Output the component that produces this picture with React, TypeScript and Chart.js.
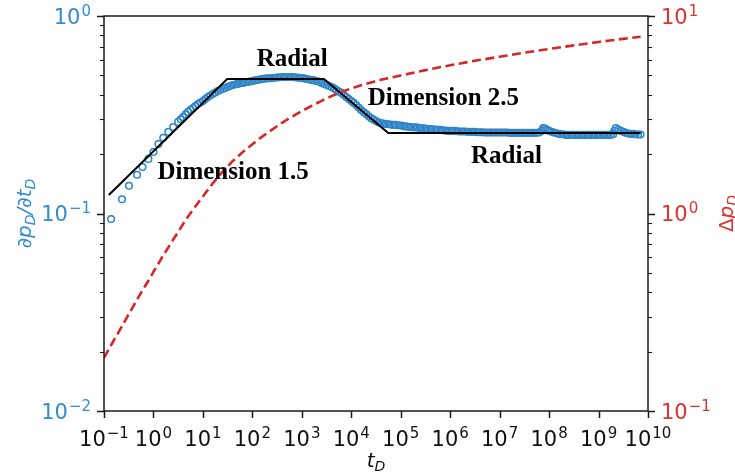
import React, { useEffect, useRef } from 'react';
import { Chart, registerables } from 'chart.js';

Chart.register(...registerables);

// ---------------- data ----------------
const xTicks = [1e-1, 1e0, 1e1, 1e2, 1e3, 1e4, 1e5, 1e6, 1e7, 1e8, 1e9, 1e10];
const xTickLabels = ['10^−1', '10^0', '10^1', '10^2', '10^3', '10^4', '10^5', '10^6', '10^7', '10^8', '10^9', '10^10'];
const yLeftTicks = [1e-2, 1e-1, 1e0];
const yLeftTickLabels = ['10^−2', '10^−1', '10^0'];
const yRightTicks = [1e-1, 1e0, 1e1];
const yRightTickLabels = ['10^−1', '10^0', '10^1'];

// derivative dpD/dtD (open circles)
const derivT = [
  0.139, 0.231, 0.32, 0.466, 0.6, 0.79,
  1, 1.26, 1.58, 2, 2.51, 3.16, 3.55, 3.98, 4.47, 5.01, 5.62, 6.31, 7.08, 7.94, 8.91,
  10, 11.2, 12.6, 14.1, 15.8, 17.8, 20, 22.4, 25.1, 28.2, 31.6, 35.5, 39.8, 44.7, 50.1, 56.2, 63.1, 70.8, 79.4, 89.1,
  100, 112, 126, 141, 158, 178, 200, 224, 251, 282, 316, 355, 398, 447, 501, 562, 631, 708, 794, 891,
  1e3, 1.12e3, 1.26e3, 1.41e3, 1.58e3, 1.78e3, 2e3, 2.24e3, 2.51e3, 2.82e3, 3.16e3, 3.55e3, 3.98e3, 4.47e3, 5.01e3, 5.62e3, 6.31e3, 7.08e3, 7.94e3, 8.91e3,
  1e4, 1.12e4, 1.26e4, 1.41e4, 1.58e4, 1.78e4, 2e4, 2.24e4, 2.51e4, 2.82e4, 3.16e4, 3.55e4, 3.98e4, 4.47e4, 5.01e4, 5.62e4, 6.31e4, 7.08e4, 7.94e4, 8.91e4,
  1e5, 1.12e5, 1.26e5, 1.41e5, 1.58e5, 1.78e5, 2e5, 2.24e5, 2.51e5, 2.82e5, 3.16e5, 3.55e5, 3.98e5, 4.47e5, 5.01e5, 5.62e5, 6.31e5, 7.08e5, 7.94e5, 8.91e5,
  1e6, 1.12e6, 1.26e6, 1.41e6, 1.58e6, 1.78e6, 2e6, 2.24e6, 2.51e6, 2.82e6, 3.16e6, 3.55e6, 3.98e6, 4.47e6, 5.01e6, 5.62e6, 6.31e6, 7.08e6, 7.94e6, 8.91e6,
  1e7, 1.12e7, 1.26e7, 1.41e7, 1.58e7, 1.78e7, 2e7, 2.24e7, 2.51e7, 2.82e7, 3.16e7, 3.55e7, 3.98e7, 4.47e7, 5.01e7, 5.62e7, 6.31e7, 7.08e7, 7.59e7, 8.32e7, 9.12e7,
  1e8, 1.12e8, 1.26e8, 1.41e8, 1.58e8, 1.78e8, 2e8, 2.24e8, 2.51e8, 2.82e8, 3.16e8, 3.55e8, 3.98e8, 4.47e8, 5.01e8, 5.62e8, 6.31e8, 7.08e8, 7.94e8, 8.91e8,
  1e9, 1.12e9, 1.26e9, 1.41e9, 1.58e9, 1.78e9, 2e9, 2.09e9, 2.24e9, 2.51e9, 2.82e9, 3.16e9, 3.55e9, 3.98e9, 4.47e9, 5.01e9, 5.62e9, 6.31e9, 7.08e9,
];
const derivV = [
  0.0938, 0.118, 0.138, 0.157, 0.172, 0.189,
  0.205, 0.225, 0.242, 0.259, 0.274, 0.291, 0.3, 0.308, 0.318, 0.327, 0.335, 0.342, 0.35, 0.358, 0.365,
  0.371, 0.38, 0.389, 0.396, 0.403, 0.41, 0.417, 0.422, 0.427, 0.432, 0.437, 0.442, 0.447, 0.45, 0.453, 0.456, 0.458, 0.461, 0.463, 0.466,
  0.469, 0.472, 0.474, 0.477, 0.48, 0.482, 0.483, 0.484, 0.485, 0.487, 0.488, 0.49, 0.491, 0.491, 0.491, 0.491, 0.491, 0.49, 0.488, 0.487,
  0.485, 0.483, 0.48, 0.477, 0.474, 0.472, 0.469, 0.464, 0.458, 0.453, 0.447, 0.442, 0.437, 0.43, 0.422, 0.415, 0.408, 0.398, 0.389, 0.38,
  0.371, 0.363, 0.354, 0.344, 0.334, 0.326, 0.319, 0.311, 0.304, 0.299, 0.294, 0.29, 0.287, 0.285, 0.284, 0.283, 0.282, 0.281, 0.281, 0.28,
  0.279, 0.277, 0.276, 0.275, 0.274, 0.273, 0.273, 0.272, 0.271, 0.27, 0.269, 0.268, 0.268, 0.267, 0.266, 0.265, 0.265, 0.264, 0.263, 0.262,
  0.262, 0.262, 0.262, 0.261, 0.26, 0.26, 0.26, 0.259, 0.259, 0.259, 0.259, 0.258, 0.258, 0.258, 0.257, 0.257, 0.257, 0.257, 0.257, 0.257,
  0.257, 0.257, 0.257, 0.257, 0.256, 0.256, 0.256, 0.256, 0.256, 0.256, 0.256, 0.256, 0.256, 0.256, 0.256, 0.256, 0.257, 0.262, 0.271, 0.269, 0.265,
  0.262, 0.259, 0.257, 0.255, 0.253, 0.252, 0.251, 0.25, 0.25, 0.25, 0.25, 0.25, 0.25, 0.25, 0.25, 0.25, 0.25, 0.25, 0.25, 0.25,
  0.25, 0.25, 0.25, 0.25, 0.25, 0.25, 0.253, 0.262, 0.271, 0.266, 0.262, 0.259, 0.256, 0.254, 0.253, 0.253, 0.252, 0.251, 0.251,
];

// flow-regime straight lines
const regimeT = [0.125, 31, 2800, 56000, 7.1e9];
const regimeV = [0.124, 0.48, 0.48, 0.2556, 0.2556];

// pressure drop ΔpD (right axis)
const pressT = [
  0.1, 0.126, 0.158, 0.2, 0.251, 0.316, 0.398, 0.501, 0.631, 0.794,
  1, 1.26, 1.58, 2, 2.51, 3.16, 3.98, 5.01, 6.31, 7.94, 10,
  15.8, 25.1, 39.8, 63.1, 100, 158, 251, 398, 631, 1e3,
  1.58e3, 2.51e3, 3.98e3, 6.31e3, 1e4, 1.58e4, 2.51e4, 3.98e4, 6.31e4, 1e5,
  3.16e5, 1e6, 3.16e6, 1e7, 3.16e7, 1e8, 3.16e8, 1e9, 3.16e9, 7.08e9,
];
const pressV = [
  0.186, 0.206, 0.228, 0.252, 0.279, 0.309, 0.342, 0.378, 0.417, 0.458,
  0.506, 0.558, 0.614, 0.674, 0.738, 0.806, 0.885, 0.965, 1.045, 1.13, 1.22,
  1.42, 1.63, 1.84, 2.04, 2.24, 2.45, 2.66, 2.88, 3.09, 3.3,
  3.51, 3.72, 3.93, 4.12, 4.3, 4.46, 4.61, 4.75, 4.88, 5.0,
  5.32, 5.63, 5.93, 6.22, 6.52, 6.81, 7.1, 7.39, 7.66, 7.85,
];

// annotation labels, anchored in data coordinates (t, derivative)
const noteTexts = ['Radial', 'Dimension 2.5', 'Dimension 1.5', 'Radial'];
const noteT = [640, 7.28e5, 40.8, 1.37e7];
const noteV = [0.558, 0.354, 0.1495, 0.18];

// ---------------- style ----------------
const W = 735;
const H = 475;
const AREA = { left: 104, right: 648, top: 16, bottom: 411 };
const BLUE = 'rgb(45,132,200)';
const BLUE_TXT = 'rgb(52,140,205)';
const RED = 'rgb(214,39,40)';
const RED_TXT = 'rgb(222,50,50)';
const AXIS = '#1a1a1a';
const FONT = '"DejaVu Sans"';
const TICK_SIZE = 21;

type Part = { t: string; sub?: boolean; it?: boolean };

function drawMath(ctx: CanvasRenderingContext2D, parts: Part[], cx: number, cy: number, size: number, color: string, rot: number) {
  ctx.save();
  ctx.translate(cx, cy);
  ctx.rotate(rot);
  const fonts = parts.map((p) => `${p.it ? 'italic ' : ''}${p.sub ? Math.round(size * 0.7) : size}px ${FONT}`);
  const widths = parts.map((p, i) => {
    ctx.font = fonts[i];
    return ctx.measureText(p.t).width;
  });
  const total = widths.reduce((a, b) => a + b, 0);
  let x = -total / 2;
  ctx.fillStyle = color;
  ctx.textBaseline = 'alphabetic';
  ctx.textAlign = 'left';
  parts.forEach((p, i) => {
    ctx.font = fonts[i];
    ctx.fillText(p.t, x, size * 0.35 + (p.sub ? size * 0.22 : 0));
    x += widths[i];
  });
  ctx.restore();
}

// "10^e" drawn with a raised, smaller exponent (matplotlib mathtext style)
function drawPow(ctx: CanvasRenderingContext2D, label: string, x: number, baseline: number, align: 'left' | 'right' | 'center', color: string) {
  const [base, exp] = label.split('^');
  const s1 = TICK_SIZE;
  const s2 = Math.round(TICK_SIZE * 0.7);
  ctx.save();
  ctx.fillStyle = color;
  ctx.textBaseline = 'alphabetic';
  ctx.textAlign = 'left';
  ctx.font = `${s1}px ${FONT}`;
  const w1 = ctx.measureText(base).width;
  ctx.font = `${s2}px ${FONT}`;
  const w2 = ctx.measureText(exp).width;
  const total = w1 + w2 + 1;
  let x0 = x;
  if (align === 'right') x0 = x - total;
  else if (align === 'center') x0 = x - total / 2;
  ctx.font = `${s1}px ${FONT}`;
  ctx.fillText(base, x0, baseline);
  ctx.font = `${s2}px ${FONT}`;
  ctx.fillText(exp, x0 + w1 + 1, baseline - s1 * 0.38);
  ctx.restore();
}

const decorPlugin = {
  id: 'decor',
  afterDatasetsDraw(chart: any) {
    const { ctx, chartArea: a, scales } = chart;
    ctx.save();
    // frame
    ctx.strokeStyle = AXIS;
    ctx.lineWidth = 1.5;
    ctx.strokeRect(a.left, a.top, a.right - a.left, a.bottom - a.top);
    // x ticks + labels
    ctx.beginPath();
    xTicks.forEach((v) => {
      const px = Math.round(scales.x.getPixelForValue(v)) + 0.5;
      ctx.moveTo(px, a.bottom);
      ctx.lineTo(px, a.bottom + 7);
    });
    ctx.stroke();
    xTicks.forEach((v, i) => {
      drawPow(ctx, xTickLabels[i], scales.x.getPixelForValue(v), a.bottom + 35, 'center', '#111');
    });
    // y ticks (major + minor) + labels
    const yTicksDraw = (scale: any, ticks: number[], labels: string[], side: 'left' | 'right', color: string) => {
      const edge = side === 'left' ? a.left : a.right;
      const dir = side === 'left' ? -1 : 1;
      ctx.strokeStyle = AXIS;
      for (let d = 0; d < ticks.length; d++) {
        for (let m = 1; m <= 9; m++) {
          if (d === ticks.length - 1 && m > 1) break;
          const v = ticks[d] * m;
          const py = Math.round(scale.getPixelForValue(v)) + 0.5;
          const len = m === 1 ? 7 : 4;
          ctx.lineWidth = m === 1 ? 1.5 : 1.1;
          ctx.beginPath();
          ctx.moveTo(edge, py);
          ctx.lineTo(edge + dir * len, py);
          ctx.stroke();
        }
        const py = scale.getPixelForValue(ticks[d]);
        drawPow(ctx, labels[d], edge + dir * 13, py + 7.5, side === 'left' ? 'right' : 'left', color);
      }
    };
    yTicksDraw(scales.y, yLeftTicks, yLeftTickLabels, 'left', BLUE_TXT);
    yTicksDraw(scales.y2, yRightTicks, yRightTickLabels, 'right', RED_TXT);

    // annotations
    ctx.fillStyle = '#000';
    ctx.font = `bold 25px "Liberation Serif"`;
    ctx.textAlign = 'center';
    ctx.textBaseline = 'alphabetic';
    noteTexts.forEach((txt, i) => {
      ctx.fillText(txt, scales.x.getPixelForValue(noteT[i]), scales.y.getPixelForValue(noteV[i]));
    });
    ctx.restore();

    // axis titles
    drawMath(ctx, [{ t: '∂p', it: true }, { t: 'D', it: true, sub: true }, { t: '/∂t', it: true }, { t: 'D', it: true, sub: true }], 24, (a.top + a.bottom) / 2, 20, BLUE_TXT, -Math.PI / 2);
    drawMath(ctx, [{ t: 'Δ' }, { t: 'p', it: true }, { t: 'D', it: true, sub: true }], 726, (a.top + a.bottom) / 2, 20, RED_TXT, -Math.PI / 2);
    drawMath(ctx, [{ t: 't', it: true }, { t: 'D', it: true, sub: true }], (a.left + a.right) / 2, 460, 20, '#111', 0);
  },
};

const fixBox = (dim: 'width' | 'height', val: number) => (s: any) => {
  s[dim] = val;
  s.paddingTop = 0;
  s.paddingBottom = 0;
  s.paddingLeft = 0;
  s.paddingRight = 0;
};

export default function App() {
  const ref = useRef<HTMLCanvasElement | null>(null);
  useEffect(() => {
    if (!ref.current) return;
    const pts = (xs: number[], ys: number[]) => xs.map((x, i) => ({ x, y: ys[i] }));
    const hidden = { display: false };
    const chart = new Chart(ref.current, {
      type: 'scatter',
      data: {
        datasets: [
          {
            label: 'ΔpD',
            data: pts(pressT, pressV),
            yAxisID: 'y2',
            showLine: true,
            borderColor: RED,
            borderWidth: 2.6,
            borderDash: [9, 4.5],
            pointRadius: 0,
            fill: false,
          },
          {
            label: 'regimes',
            data: pts(regimeT, regimeV),
            yAxisID: 'y',
            showLine: true,
            borderColor: '#000',
            borderWidth: 2,
            pointRadius: 0,
            fill: false,
          },
          {
            label: 'dpD/dtD',
            data: pts(derivT, derivV),
            yAxisID: 'y',
            showLine: false,
            pointStyle: 'circle',
            pointRadius: 3.3,
            pointBorderWidth: 1.5,
            pointBorderColor: BLUE,
            pointBackgroundColor: 'rgba(255,255,255,0)',
          },
        ],
      },
      options: {
        animation: false,
        responsive: false,
        devicePixelRatio: 1,
        layout: { padding: { top: AREA.top, left: 0, right: 0, bottom: 0 } },
        plugins: { legend: { display: false }, tooltip: { enabled: false }, title: { display: false } },
        scales: {
          x: {
            type: 'logarithmic',
            position: 'bottom',
            min: 1e-1,
            max: 1e10,
            grid: { display: false, drawTicks: false },
            border: { display: false },
            afterBuildTicks: (s: any) => {
              s.ticks = xTicks.map((v) => ({ value: v }));
            },
            afterFit: fixBox('height', H - AREA.bottom),
            ticks: hidden,
          },
          y: {
            type: 'logarithmic',
            position: 'left',
            min: 1e-2,
            max: 1e0,
            grid: { display: false, drawTicks: false },
            border: { display: false },
            afterBuildTicks: (s: any) => {
              s.ticks = yLeftTicks.map((v) => ({ value: v }));
            },
            afterFit: fixBox('width', AREA.left),
            ticks: hidden,
          },
          y2: {
            type: 'logarithmic',
            position: 'right',
            min: 1e-1,
            max: 1e1,
            grid: { display: false, drawTicks: false },
            border: { display: false },
            afterBuildTicks: (s: any) => {
              s.ticks = yRightTicks.map((v) => ({ value: v }));
            },
            afterFit: fixBox('width', W - AREA.right),
            ticks: hidden,
          },
        },
      },
      plugins: [decorPlugin],
    });
    return () => chart.destroy();
  }, []);

  return (
    <div style={{ position: 'absolute', left: 0, top: 0, width: W, height: H, background: '#fff' }}>
      <canvas ref={ref} width={W} height={H} style={{ display: 'block', width: W, height: H }} />
    </div>
  );
}
